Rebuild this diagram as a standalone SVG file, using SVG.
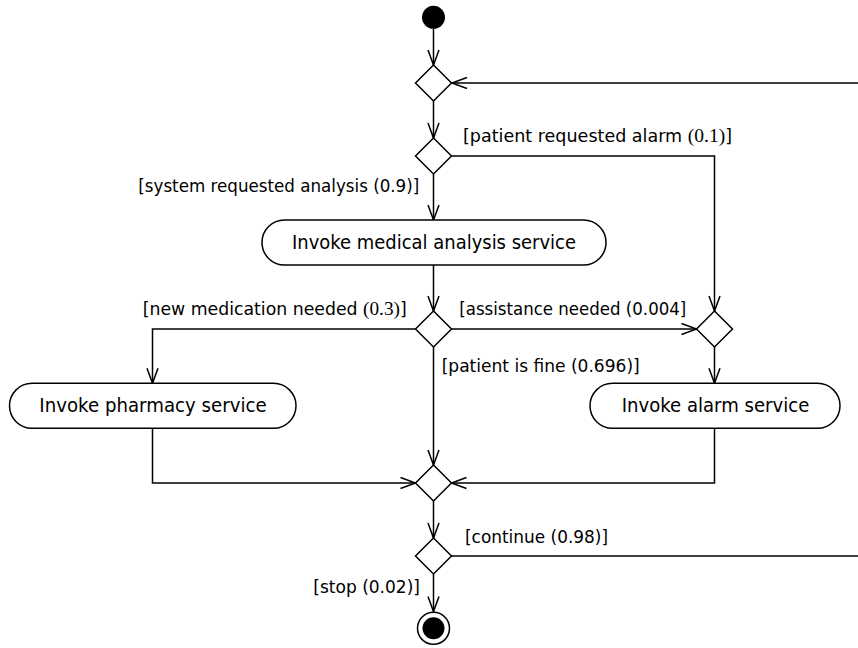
<svg xmlns="http://www.w3.org/2000/svg" width="858" height="648" viewBox="0 0 858 648">
  <style>
    .edge { fill: none; stroke: #000; stroke-width: 1.5; }
    .arrow { marker-end: url(#open); }
    .decision { fill: #fff; stroke: #000; stroke-width: 1.5; }
    .action { fill: #fff; stroke: #000; stroke-width: 1.5; }
    .label { font-family: "DejaVu Sans", "Liberation Sans", sans-serif; font-size: 17.5px; fill: #000; }
    .name { font-family: "DejaVu Sans", "Liberation Sans", sans-serif; font-size: 19px; fill: #000; }
    .math { font-family: "Liberation Serif", "DejaVu Serif", serif; font-size: 19.5px; }
  </style>
  <defs>
    <!-- open V-shaped arrowhead, tip at the path end -->
    <marker id="open" markerUnits="userSpaceOnUse" viewBox="-17 -8 19 16" markerWidth="19" markerHeight="16" refX="0" refY="0" orient="auto" overflow="visible">
      <path d="M -15 -5.5 L 0 0 L -15 5.5" fill="none" stroke="#000" stroke-width="1.5"/>
    </marker>
  </defs>

  <!-- connectors -->
  <g id="connectors">
    <path class="edge arrow" d="M 433.5 28.5 L 433.5 65"/>
    <path class="edge arrow" d="M 858 83 L 452 83"/>
    <path class="edge arrow" d="M 433.5 101 L 433.5 138"/>
    <path class="edge arrow" d="M 452 156 L 714.5 156 L 714.5 311"/>
    <path class="edge arrow" d="M 433.5 174 L 433.5 220"/>
    <path class="edge arrow" d="M 433.5 265 L 433.5 311"/>
    <path class="edge arrow" d="M 415.5 329 L 152.5 329 L 152.5 383.3"/>
    <path class="edge arrow" d="M 451.5 329 L 696.5 329"/>
    <path class="edge arrow" d="M 433.5 347 L 433.5 465"/>
    <path class="edge arrow" d="M 714.5 347 L 714.5 383.3"/>
    <path class="edge arrow" d="M 152.5 428.3 L 152.5 483 L 415.5 483"/>
    <path class="edge arrow" d="M 714.5 428.3 L 714.5 483 L 451.5 483"/>
    <path class="edge arrow" d="M 433.5 501 L 433.5 538"/>
    <path class="edge" d="M 451.5 556 L 858 556"/>
    <path class="edge arrow" d="M 433.5 574 L 433.5 611.5"/>
  </g>

  <!-- guard labels -->
  <g id="guards">
    <text class="label" x="463" y="142" textLength="269" lengthAdjust="spacingAndGlyphs">[patient requested alarm <tspan class="math">(0.1)</tspan>]</text>
    <text class="label" x="138.3" y="191.5" textLength="281" lengthAdjust="spacingAndGlyphs">[system requested analysis (0.9)]</text>
    <text class="label" x="142.7" y="315" textLength="264" lengthAdjust="spacingAndGlyphs">[new medication needed <tspan class="math">(0.3)</tspan>]</text>
    <text class="label" x="459.3" y="315" textLength="227" lengthAdjust="spacingAndGlyphs">[assistance needed (0.004]</text>
    <text class="label" x="441.7" y="371.7" textLength="198" lengthAdjust="spacingAndGlyphs">[patient is fine (0.696)]</text>
    <text class="label" x="465" y="543.3" textLength="143" lengthAdjust="spacingAndGlyphs">[continue (0.98)]</text>
    <text class="label" x="313.3" y="593.3" textLength="106.7" lengthAdjust="spacingAndGlyphs">[stop (0.02)]</text>
  </g>

  <!-- initial node -->
  <g id="start">
    <circle cx="433.5" cy="17.3" r="11.5" fill="#000"/>
  </g>

  <!-- merge / decision nodes -->
  <g id="merge-loop"><polygon class="decision" points="433.5,65 451.5,83 433.5,101 415.5,83"/></g>
  <g id="decide-request"><polygon class="decision" points="433.5,138 451.5,156 433.5,174 415.5,156"/></g>
  <g id="decide-analysis"><polygon class="decision" points="433.5,311 451.5,329 433.5,347 415.5,329"/></g>
  <g id="merge-alarm"><polygon class="decision" points="714.5,311 732.5,329 714.5,347 696.5,329"/></g>
  <g id="merge-services"><polygon class="decision" points="433.5,465 451.5,483 433.5,501 415.5,483"/></g>
  <g id="decide-continue"><polygon class="decision" points="433.5,538 451.5,556 433.5,574 415.5,556"/></g>

  <!-- actions -->
  <g id="medical-analysis">
    <rect class="action" x="262" y="220" width="344" height="45" rx="22.5" ry="22.5"/>
    <text class="name" x="292" y="249" textLength="284" lengthAdjust="spacingAndGlyphs">Invoke medical analysis service</text>
  </g>
  <g id="pharmacy">
    <rect class="action" x="9.5" y="383.3" width="286.5" height="45" rx="22.5" ry="22.5"/>
    <text class="name" x="39.3" y="412.3" textLength="227.4" lengthAdjust="spacingAndGlyphs">Invoke pharmacy service</text>
  </g>
  <g id="alarm">
    <rect class="action" x="590" y="383.3" width="250" height="45" rx="22.5" ry="22.5"/>
    <text class="name" x="621.7" y="412.3" textLength="187.6" lengthAdjust="spacingAndGlyphs">Invoke alarm service</text>
  </g>

  <!-- final node -->
  <g id="end">
    <circle cx="433.5" cy="628.3" r="16" fill="#fff" stroke="#000" stroke-width="1.5"/>
    <circle cx="433.5" cy="628.3" r="11" fill="#000"/>
  </g>
</svg>
